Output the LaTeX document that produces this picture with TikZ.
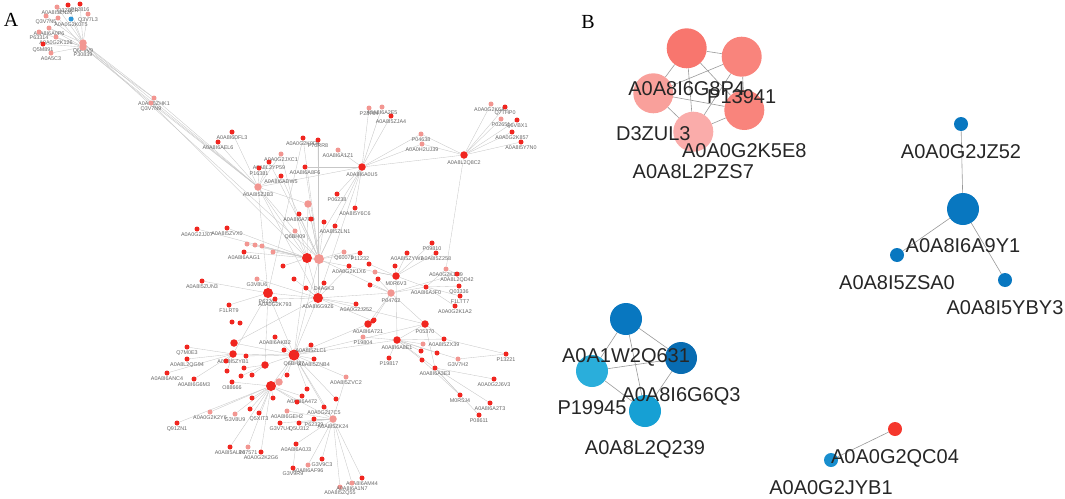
\documentclass[tikz,border=0pt]{standalone}
\usepackage{fontspec}
\setmainfont{Liberation Sans}
\newfontfamily\panelfont{Liberation Serif}
\usepackage{xcolor}
\usepackage{tikz}
\usetikzlibrary{positioning}
\pgfdeclarelayer{background}
\pgfsetlayers{background,main}
\definecolor{ared}{RGB}{240,38,32}
\definecolor{apink}{RGB}{242,150,145}
\definecolor{ablue}{RGB}{45,150,215}
\definecolor{bsal1}{RGB}{248,118,110}
\definecolor{bsal2}{RGB}{249,132,124}
\definecolor{bsal3}{RGB}{249,160,155}
\definecolor{bsal4}{RGB}{250,172,170}
\definecolor{bblue}{RGB}{8,119,192}
\definecolor{bblue2}{RGB}{8,108,178}
\definecolor{bcyan}{RGB}{42,174,219}
\definecolor{bcyan2}{RGB}{22,160,212}
\definecolor{bred}{RGB}{245,55,45}
\definecolor{bblue3}{RGB}{24,142,206}

\begin{document}
\begin{tikzpicture}[x=1pt, y=-1pt,
    an/.style={circle, fill=ared, inner sep=0pt, minimum size=5pt},
    ap/.style={circle, fill=apink, inner sep=0pt, minimum size=5pt},
    amid/.style={minimum size=7.5pt},
    ahub/.style={minimum size=10pt},
    every label/.style={font=\fontsize{5.4}{5.4}\selectfont, text=black!60, inner sep=0pt},
    label distance=1.2pt,
    aline/.style={draw=black!22, line width=0.35pt},
    bn/.style={circle, inner sep=0pt},
    blab/.style={font=\fontsize{20}{20}\selectfont, text=black!85, inner sep=0pt},
    bline/.style={draw=black!40, line width=0.6pt}]
    \useasboundingbox (0,0) rectangle (1065,498);
    \node (A) at (11,20) [font=\panelfont\fontsize{20}{20}\selectfont] {A};
    \node (B) at (588,22) [font=\panelfont\fontsize{20}{20}\selectfont] {B};

    % panel A
    \node (1) at (68,5) [an, label=below:Q3ZB2R] {};
    \node (2) at (80,4) [an, label=below:P12816] {};
    \node (3) at (57,7) [ap, label=below:A0A8I5ZN26] {};
    \node (4) at (88,14) [ap, label=below:Q3V7L3] {};
    \node (5) at (71,19) [circle, fill=ablue, inner sep=0pt, minimum size=5pt, label=below:A0A0G2K0T5] {};
    \node (6) at (46,16) [ap, label=below:Q3V7N5] {};
    \node (7) at (58,18) [ap] {};
    \node (8) at (49,28) [ap, label=below:A0A8I6A0P6] {};
    \node (9) at (39,32) [ap, label=below:P63314] {};
    \node (10) at (56,37) [ap, label=below:A0A0G2K126] {};
    \node (11) at (43,44) [an, label=below:Q5M891] {};
    \node (12) at (51,53) [ap, label=below:A0A5C3] {};
    \node (13) at (83,43) [ap, amid, label=below:Q6P9V9] {};
    \node (14) at (83,47) [ap, amid, label=below:P30839] {};
    \node (15) at (154,98) [ap, label=below:A0A8I5ZHK1] {};
    \node (16) at (151,103) [ap, label=below:Q3V7N9] {};
    \node (17) at (232,132) [an, label=below:A0A8I6DFL3] {};
    \node (18) at (218,142) [an, label=below:A0A8I6AEL6] {};
    \node (19) at (281,154) [ap, label=below:A0A0G2JXC1] {};
    \node (20) at (269,162) [an, label=below:A0A8L2YP59] {};
    \node (21) at (259,168) [an, label=below:P16381] {};
    \node (22) at (281,176) [an, label=below:A0A8I6ADW5] {};
    \node (23) at (303,138) [an, label=below:A0A0G2K9D4] {};
    \node (24) at (318,140) [an, label=below:P70RR8] {};
    \node (25) at (305,167) [an, label=below:A0A8I6A8F6] {};
    \node (26) at (308,204) [ap, amid] {};
    \node (27) at (369,108) [ap, label=below:P23764] {};
    \node (28) at (382,107) [ap, label=below:A0A8I6A2E5] {};
    \node (29) at (391,116) [an, label=below:A0A8I5ZJA4] {};
    \node (30) at (338,150) [ap, label=below:A0A8I6A1Z1] {};
    \node (31) at (362,167) [an, amid, label=below:A0A8I6A0U5] {};
    \node (32) at (421,134) [ap, label=below:P04638] {};
    \node (33) at (422,144) [ap, label=below:A0A0H2UJ39] {};
    \node (34) at (464,155) [an, amid, label=below:A0A8L2Q8C2] {};
    \node (35) at (491,104) [ap, label=below:A0A0G2K6A5] {};
    \node (36) at (505,107) [an, label=below:Q7THP0] {};
    \node (37) at (501,119) [ap, label=below:P02651] {};
    \node (38) at (517,120) [an, label=below:Q6VBX1] {};
    \node (39) at (512,132) [an, label=below:A0A0G2K857] {};
    \node (40) at (258,187) [ap, amid, label=below:A0A8I5ZJB3] {};
    \node (41) at (521,142) [an, label=below:A0A8I5Y7N0] {};
    \node (42) at (337,194) [an, label=below:P06238] {};
    \node (43) at (355,208) [an, label=below:A0A8I5Y6C6] {};
    \node (44) at (197,229) [an, label=below:A0A0G2JJ07] {};
    \node (45) at (227,228) [an, label=below:A0A8I5ZVX0] {};
    \node (46) at (299,214) [an, label=below:A0A8I6A7R9] {};
    \node (48) at (311,219) [an] {};
    \node (49) at (324,222) [an] {};
    \node (50) at (335,226) [an, label=below:A0A8I5ZLN1] {};
    \node (51) at (295,231) [ap, label=below:Q6BH09] {};
    \node (52) at (247,244) [ap] {};
    \node (53) at (255,245) [ap] {};
    \node (54) at (262,246) [ap] {};
    \node (55) at (273,252) [ap] {};
    \node (56) at (244,252) [an, label=below:A0A8I6AAG1] {};
    \node (57) at (307,258) [an, ahub] {};
    \node (58) at (319,259) [ap, ahub] {};
    \node (59) at (283,266) [an] {};
    \node (60) at (257,279) [ap, label=below:G3V8U6] {};
    \node (61) at (294,279) [an] {};
    \node (62) at (324,283) [an, label=below:D4A6K3] {};
    \node (63) at (306,288) [an] {};
    \node (64) at (318,298) [an, ahub, label=below:A0A8I6G9Z6] {};
    \node (65) at (268,293) [an, ahub, label=below:P62269] {};
    \node (66) at (275,299) [an, label=below:A0A0G2K793] {};
    \node (67) at (202,281) [an, label=below:A0A8I5ZUN3] {};
    \node (68) at (229,305) [an, label=below:F1LRT9] {};
    \node (69) at (344,252) [ap, label=below:Q60075] {};
    \node (70) at (360,253) [an, label=below:P11232] {};
    \node (71) at (349,266) [an, label=below:A0A0G2K1X6] {};
    \node (72) at (356,304) [an, label=below:A0A0G2J252] {};
    \node (73) at (232,322) [an] {};
    \node (74) at (240,323) [an] {};
    \node (75) at (368,324) [an, amid, label=below:A0A8I6A721] {};
    \node (76) at (373,321) [an] {};
    \node (77) at (432,243) [an, label=below:P09810] {};
    \node (78) at (436,253) [an, label=below:A0A8I5Z258] {};
    \node (79) at (407,253) [an, label=below:A0A8I5ZYW1] {};
    \node (80) at (369,264) [an] {};
    \node (81) at (395,266) [an] {};
    \node (82) at (396,276) [an, amid, label=below:M0R6V3] {};
    \node (83) at (375,272) [ap] {};
    \node (84) at (378,279) [an] {};
    \node (85) at (370,285) [an] {};
    \node (86) at (391,293) [ap, amid, label=below:P04762] {};
    \node (87) at (426,287) [an, label=below:A0A8I6AJF0] {};
    \node (88) at (446,269) [ap, label=below:A0A0G2K1N9] {};
    \node (89) at (457,274) [an, label=below:A0A8L2QD42] {};
    \node (90) at (459,286) [an, label=below:Q03336] {};
    \node (91) at (460,296) [an, label=below:F1LTT7] {};
    \node (92) at (455,306) [an, label=below:A0A0G2K1A2] {};
    \node (93) at (374,320) [an] {};
    \node (94) at (425,324) [an, amid, label=below:P05370] {};
    \node (95) at (187,347) [an, label=below:Q7M0E3] {};
    \node (96) at (187,359) [an, label=below:A0A8L2QG94] {};
    \node (97) at (167,373) [an, label=below:A0A8I6ANC4] {};
    \node (98) at (194,379) [an, label=below:A0A8I6G6M3] {};
    \node (99) at (234,343) [an, amid] {};
    \node (100) at (233,354) [an, amid, label=below:A0A8I5ZYB1] {};
    \node (101) at (246,356) [an] {};
    \node (102) at (275,337) [an, label=below:A0A8I6AKB2] {};
    \node (103) at (284,350) [an] {};
    \node (104) at (294,355) [an, minimum size=11pt, label=below:Q6BH27] {};
    \node (105) at (311,345) [an, label=below:A0A8I5ZLC1] {};
    \node (106) at (314,359) [an, label=below:A0A8I5ZNB4] {};
    \node (107) at (265,365) [an, amid] {};
    \node (108) at (226,361) [an] {};
    \node (109) at (244,368) [an] {};
    \node (110) at (227,371) [an] {};
    \node (111) at (287,375) [an] {};
    \node (112) at (241,376) [an] {};
    \node (113) at (252,375) [an] {};
    \node (114) at (279,382) [ap, amid] {};
    \node (115) at (271,386) [an, ahub] {};
    \node (116) at (232,382) [an, label=below:O88666] {};
    \node (117) at (307,389) [an] {};
    \node (118) at (252,398) [an] {};
    \node (119) at (273,398) [an] {};
    \node (120) at (302,396) [an, label=below:A0A8I6A472] {};
    \node (121) at (297,402) [an] {};
    \node (122) at (346,377) [ap, label=below:A0A8I5ZVC2] {};
    \node (123) at (336,399) [an] {};
    \node (124) at (324,407) [an, label=below:A0A0G2J7C5] {};
    \node (125) at (210,412) [ap, label=below:A0A0G2K2Y6] {};
    \node (126) at (235,414) [ap, label=below:G3V8U9] {};
    \node (127) at (250,409) [an] {};
    \node (128) at (259,413) [an, label=below:Q5XIT3] {};
    \node (129) at (287,411) [ap, label=below:A0A8I6GEH2] {};
    \node (130) at (314,419) [an, label=below:P62329] {};
    \node (131) at (333,419) [ap, amid, label=below:A0A8I5ZK24] {};
    \node (132) at (363,337) [ap, label=below:P19804] {};
    \node (133) at (397,340) [an, amid, label=below:A0A8I6A8E1] {};
    \node (134) at (423,344) [ap] {};
    \node (135) at (444,339) [an, label=below:A0A8I5ZX39] {};
    \node (136) at (421,351) [an] {};
    \node (137) at (437,353) [an] {};
    \node (138) at (389,358) [an, label=below:P19817] {};
    \node (139) at (422,360) [an] {};
    \node (140) at (458,359) [ap, label=below:G3V7H2] {};
    \node (141) at (435,368) [an, label=below:A0A8I6A3E3] {};
    \node (142) at (506,354) [an, label=below:P13221] {};
    \node (143) at (494,379) [an, label=below:A0A0G2J6V3] {};
    \node (144) at (460,395) [an, label=below:M0R5J4] {};
    \node (145) at (490,403) [an, label=below:A0A8I6A2T3] {};
    \node (146) at (479,415) [an, label=below:P08611] {};
    \node (147) at (177,423) [an, label=below:Q91ZN1] {};
    \node (148) at (280,423) [an, label=below:G3V7U4] {};
    \node (149) at (299,423) [an, label=below:Q5U312] {};
    \node (150) at (230,447) [an, label=below:A0A8I5AL14] {};
    \node (151) at (248,447) [ap, label=below:P07571] {};
    \node (152) at (261,452) [an, label=below:A0A0G2K2G6] {};
    \node (153) at (296,444) [an, label=below:A0A8I6A0J3] {};
    \node (154) at (322,459) [an, label=below:G3V9C3] {};
    \node (155) at (308,465) [ap, label=below:A0A8I6AF96] {};
    \node (156) at (293,468) [an, label=below:G3V9R9] {};
    \node (157) at (340,487) [ap, label=below:A0A8I5ZQ55] {};
    \node (158) at (362,478) [an, label=below:A0A8I6AM44] {};
    \node (159) at (352,483) [ap, label=below:A0A8I6A1N7] {};

    \begin{pgfonlayer}{background}
    \draw [aline] (13) edge (1);
    \draw [aline] (13) edge (2);
    \draw [aline] (13) edge (3);
    \draw [aline] (13) edge (4);
    \draw [aline] (13) edge (5);
    \draw [aline] (13) edge (6);
    \draw [aline] (14) edge (7);
    \draw [aline] (14) edge (8);
    \draw [aline] (14) edge (9);
    \draw [aline] (14) edge (10);
    \draw [aline] (14) edge (11);
    \draw [aline] (14) edge (12);
    \draw [aline] (13) edge (8);
    \draw [aline] (13) edge (15);
    \draw [aline] (14) edge (15);
    \draw [aline] (14) edge (16);
    \draw [aline] (13) edge (40);
    \draw [aline] (14) edge (40);
    \draw [aline] (13) edge (58);
    \draw [aline] (15) edge (40);
    \draw [aline] (16) edge (40);
    \draw [aline] (16) edge (57);
    \draw [aline] (17) edge (40);
    \draw [aline] (18) edge (40);
    \draw [aline] (19) edge (40);
    \draw [aline] (20) edge (40);
    \draw [aline] (21) edge (40);
    \draw [aline] (22) edge (40);
    \draw [aline] (19) edge (57);
    \draw [aline] (20) edge (58);
    \draw [aline] (22) edge (58);
    \draw [aline] (23) edge (58);
    \draw [aline] (24) edge (58);
    \draw [aline] (25) edge (58);
    \draw [aline] (23) edge (65);
    \draw [aline] (24) edge (64);
    \draw [aline] (25) edge (31);
    \draw [aline] (27) edge (31);
    \draw [aline] (28) edge (31);
    \draw [aline] (29) edge (31);
    \draw [aline] (30) edge (31);
    \draw [aline] (31) edge (40);
    \draw [aline] (31) edge (57);
    \draw [aline] (31) edge (58);
    \draw [aline] (31) edge (32);
    \draw [aline] (31) edge (33);
    \draw [aline] (31) edge (34);
    \draw [aline] (31) edge (64);
    \draw [aline] (42) edge (31);
    \draw [aline] (43) edge (31);
    \draw [aline] (32) edge (34);
    \draw [aline] (33) edge (34);
    \draw [aline] (35) edge (34);
    \draw [aline] (36) edge (34);
    \draw [aline] (37) edge (34);
    \draw [aline] (38) edge (34);
    \draw [aline] (39) edge (34);
    \draw [aline] (41) edge (34);
    \draw [aline] (34) edge (88);
    \draw [aline] (40) edge (57);
    \draw [aline] (40) edge (58);
    \draw [aline] (40) edge (65);
    \draw [aline] (40) edge (64);
    \draw [aline] (40) edge (26);
    \draw [aline] (26) edge (57);
    \draw [aline] (26) edge (58);
    \draw [aline] (46) edge (58);
    \draw [aline] (48) edge (58);
    \draw [aline] (49) edge (58);
    \draw [aline] (50) edge (58);
    \draw [aline] (51) edge (57);
    \draw [aline] (44) edge (57);
    \draw [aline] (45) edge (57);
    \draw [aline] (52) edge (57);
    \draw [aline] (53) edge (57);
    \draw [aline] (54) edge (57);
    \draw [aline] (55) edge (58);
    \draw [aline] (56) edge (57);
    \draw [aline] (59) edge (57);
    \draw [aline] (60) edge (64);
    \draw [aline] (61) edge (64);
    \draw [aline] (62) edge (64);
    \draw [aline] (63) edge (64);
    \draw [aline] (65) edge (64);
    \draw [aline] (66) edge (64);
    \draw [aline] (67) edge (65);
    \draw [aline] (68) edge (65);
    \draw [aline] (57) edge (58);
    \draw [aline] (57) edge (64);
    \draw [aline] (58) edge (64);
    \draw [aline] (57) edge (104);
    \draw [aline] (58) edge (104);
    \draw [aline] (64) edge (104);
    \draw [aline] (65) edge (104);
    \draw [aline] (69) edge (58);
    \draw [aline] (70) edge (58);
    \draw [aline] (71) edge (64);
    \draw [aline] (72) edge (64);
    \draw [aline] (57) edge (82);
    \draw [aline] (58) edge (86);
    \draw [aline] (64) edge (86);
    \draw [aline] (64) edge (94);
    \draw [aline] (79) edge (82);
    \draw [aline] (77) edge (82);
    \draw [aline] (78) edge (82);
    \draw [aline] (80) edge (82);
    \draw [aline] (81) edge (82);
    \draw [aline] (83) edge (82);
    \draw [aline] (84) edge (86);
    \draw [aline] (85) edge (86);
    \draw [aline] (86) edge (87);
    \draw [aline] (82) edge (87);
    \draw [aline] (86) edge (89);
    \draw [aline] (87) edge (88);
    \draw [aline] (88) edge (89);
    \draw [aline] (87) edge (90);
    \draw [aline] (87) edge (91);
    \draw [aline] (87) edge (92);
    \draw [aline] (86) edge (94);
    \draw [aline] (82) edge (133);
    \draw [aline] (93) edge (86);
    \draw [aline] (75) edge (86);
    \draw [aline] (76) edge (64);
    \draw [aline] (95) edge (100);
    \draw [aline] (96) edge (100);
    \draw [aline] (97) edge (100);
    \draw [aline] (98) edge (100);
    \draw [aline] (99) edge (104);
    \draw [aline] (100) edge (104);
    \draw [aline] (101) edge (104);
    \draw [aline] (102) edge (104);
    \draw [aline] (103) edge (104);
    \draw [aline] (105) edge (104);
    \draw [aline] (106) edge (104);
    \draw [aline] (107) edge (104);
    \draw [aline] (108) edge (100);
    \draw [aline] (109) edge (107);
    \draw [aline] (110) edge (100);
    \draw [aline] (111) edge (104);
    \draw [aline] (112) edge (107);
    \draw [aline] (113) edge (107);
    \draw [aline] (114) edge (104);
    \draw [aline] (115) edge (104);
    \draw [aline] (116) edge (115);
    \draw [aline] (117) edge (104);
    \draw [aline] (118) edge (115);
    \draw [aline] (119) edge (115);
    \draw [aline] (120) edge (115);
    \draw [aline] (121) edge (115);
    \draw [aline] (122) edge (104);
    \draw [aline] (123) edge (104);
    \draw [aline] (124) edge (131);
    \draw [aline] (125) edge (115);
    \draw [aline] (126) edge (115);
    \draw [aline] (127) edge (115);
    \draw [aline] (128) edge (115);
    \draw [aline] (129) edge (131);
    \draw [aline] (130) edge (131);
    \draw [aline] (131) edge (104);
    \draw [aline] (131) edge (115);
    \draw [aline] (99) edge (64);
    \draw [aline] (100) edge (65);
    \draw [aline] (107) edge (65);
    \draw [aline] (104) edge (133);
    \draw [aline] (104) edge (94);
    \draw [aline] (104) edge (75);
    \draw [aline] (132) edge (133);
    \draw [aline] (133) edge (94);
    \draw [aline] (133) edge (134);
    \draw [aline] (133) edge (135);
    \draw [aline] (133) edge (136);
    \draw [aline] (133) edge (137);
    \draw [aline] (133) edge (138);
    \draw [aline] (133) edge (139);
    \draw [aline] (133) edge (140);
    \draw [aline] (133) edge (141);
    \draw [aline] (94) edge (135);
    \draw [aline] (94) edge (141);
    \draw [aline] (135) edge (142);
    \draw [aline] (141) edge (143);
    \draw [aline] (141) edge (144);
    \draw [aline] (141) edge (145);
    \draw [aline] (141) edge (146);
    \draw [aline] (139) edge (144);
    \draw [aline] (140) edge (142);
    \draw [aline] (147) edge (115);
    \draw [aline] (148) edge (131);
    \draw [aline] (149) edge (131);
    \draw [aline] (150) edge (115);
    \draw [aline] (151) edge (115);
    \draw [aline] (152) edge (115);
    \draw [aline] (153) edge (131);
    \draw [aline] (154) edge (131);
    \draw [aline] (155) edge (131);
    \draw [aline] (156) edge (153);
    \draw [aline] (157) edge (131);
    \draw [aline] (158) edge (131);
    \draw [aline] (159) edge (131);
    \draw [aline] (131) edge (122);
    \draw [aline] (124) edge (104);
    \end{pgfonlayer}

    % panel B
    \node (201) at (686.7,48.3) [bn, fill=bsal1, minimum size=40pt] {};
    \node (202) at (741.7,56.7) [bn, fill=bsal2, minimum size=40pt] {};
    \node (203) at (653.3,93.3) [bn, fill=bsal3, minimum size=40pt] {};
    \node (204) at (744.3,110) [bn, fill=bsal2, minimum size=40pt] {};
    \node (205) at (693.3,131.7) [bn, fill=bsal4, minimum size=40pt] {};
    \node (206) at (961,124) [bn, fill=bblue, minimum size=14pt] {};
    \node (207) at (963,209) [bn, fill=bblue, minimum size=32pt] {};
    \node (208) at (897,255) [bn, fill=bblue, minimum size=14pt] {};
    \node (209) at (1005,280) [bn, fill=bblue, minimum size=14pt] {};
    \node (210) at (626,319) [bn, fill=bblue, minimum size=32pt] {};
    \node (211) at (681,358) [bn, fill=bblue2, minimum size=32pt] {};
    \node (212) at (592,371) [bn, fill=bcyan, minimum size=32pt] {};
    \node (213) at (645,411) [bn, fill=bcyan2, minimum size=32pt] {};
    \node (214) at (895,429) [bn, fill=bred, minimum size=14pt] {};
    \node (215) at (831,460) [bn, fill=bblue3, minimum size=14pt] {};

    \node (l201) [blab, below=12.8pt of 201] {A0A8I6G8P4};
    \node (l202) [blab, below=12.8pt of 202] {P13941};
    \node (l203) [blab, below=12.8pt of 203] {D3ZUL3};
    \node (l204) [blab, below=12.8pt of 204] {A0A0G2K5E8};
    \node (l205) [blab, below=12.8pt of 205] {A0A8L2PZS7};
    \node (l206) [blab, below=12.8pt of 206] {A0A0G2JZ52};
    \node (l207) [blab, below=12.8pt of 207] {A0A8I6A9Y1};
    \node (l208) [blab, below=12.8pt of 208] {A0A8I5ZSA0};
    \node (l209) [blab, below=12.8pt of 209] {A0A8I5YBY3};
    \node (l210) [blab, below=12.8pt of 210] {A0A1W2Q631};
    \node (l211) [blab, below=12.8pt of 211] {A0A8I6G6Q3};
    \node (l212) [blab, below=12.8pt of 212] {P19945};
    \node (l213) [blab, below=12.8pt of 213] {A0A8L2Q239};
    \node (l214) [blab, below=12.8pt of 214] {A0A0G2QC04};
    \node (l215) [blab, below=12.8pt of 215] {A0A0G2JYB1};

    \begin{pgfonlayer}{background}
    \draw [bline] (201) edge (202);
    \draw [bline] (201) edge (203);
    \draw [bline] (201) edge (204);
    \draw [bline] (201) edge (205);
    \draw [bline] (202) edge (203);
    \draw [bline] (202) edge (204);
    \draw [bline] (202) edge (205);
    \draw [bline] (203) edge (204);
    \draw [bline] (203) edge (205);
    \draw [bline] (204) edge (205);
    \draw [bline] (206) edge (207);
    \draw [bline] (207) edge (208);
    \draw [bline] (207) edge (209);
    \draw [bline] (210) edge (211);
    \draw [bline] (210) edge (212);
    \draw [bline] (210) edge (213);
    \draw [bline] (212) edge (211);
    \draw [bline] (212) edge (213);
    \draw [bline] (211) edge (213);
    \draw [bline] (214) edge (215);
    \end{pgfonlayer}
\end{tikzpicture}
\end{document}
